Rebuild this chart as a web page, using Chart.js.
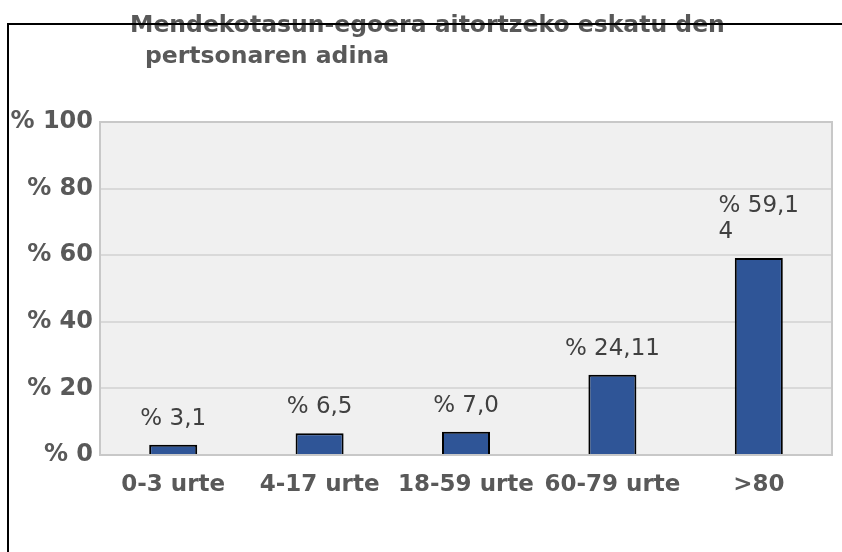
<!DOCTYPE html>
<html>
<head>
<meta charset="utf-8">
<script src="https://cdn.jsdelivr.net/npm/chart.js@4/dist/chart.umd.min.js"></script>
<style>
  body { margin: 0; background: #ffffff; }
  #wrap { width: 842px; height: 552px; }
</style>
</head>
<body>
<div id="wrap"><canvas id="ageChart" width="842" height="552"></canvas></div>
<script>
// Data
const titleLines = ['Mendekotasun-egoera aitortzeko eskatu den', 'pertsonaren adina'];
const categories = ['0-3 urte', '4-17 urte', '18-59 urte', '60-79 urte', '>80'];
const shares = [3.1, 6.5, 7.0, 24.11, 59.14];
const valueLabels = [['% 3,1'], ['% 6,5'], ['% 7,0'], ['% 24,11'], ['% 59,1', '4']];
const yMax = 100;
const yStep = 20;

const GREY = '#595959';

// plot area background + border
const plotBox = {
  id: 'plotBox',
  beforeDraw(chart) {
    const { ctx, chartArea: a } = chart;
    ctx.save();
    ctx.fillStyle = '#f0f0f0';
    ctx.fillRect(a.left, a.top, a.right - a.left, a.bottom - a.top);
    ctx.restore();
  },
  beforeDatasetsDraw(chart) {
    const { ctx, chartArea: a } = chart;
    ctx.save();
    ctx.strokeStyle = '#c8c8c8';
    ctx.lineWidth = 2;
    ctx.strokeRect(a.left, a.top, a.right - a.left, a.bottom - a.top);
    ctx.restore();
  }
};

// value labels above bars (first line centred, extra lines left-aligned under it)
const barLabels = {
  id: 'barLabels',
  afterDatasetsDraw(chart) {
    const { ctx } = chart;
    const bars = chart.getDatasetMeta(0).data;
    ctx.save();
    ctx.font = '23px "DejaVu Sans", sans-serif';
    ctx.fillStyle = '#404040';
    ctx.textAlign = 'left';
    ctx.textBaseline = 'alphabetic';
    bars.forEach((bar, i) => {
      const lines = valueLabels[i];
      const w = ctx.measureText(lines[0]).width;
      const left = bar.x - w / 2;
      const n = lines.length;
      lines.forEach((txt, j) => {
        ctx.fillText(txt, left, bar.y - 20 - (n - 1 - j) * 26);
      });
    });
    ctx.restore();
  }
};

// title and the outer frame line that runs through it
const titleFrame = {
  id: 'titleFrame',
  afterDraw(chart) {
    const { ctx } = chart;
    ctx.save();
    ctx.font = 'bold 23.5px "DejaVu Sans", sans-serif';
    ctx.fillStyle = GREY;
    ctx.textAlign = 'left';
    ctx.textBaseline = 'alphabetic';
    ctx.fillText(titleLines[0], 130, 32);
    ctx.fillText(titleLines[1], 145, 63);
    ctx.strokeStyle = '#000000';
    ctx.lineWidth = 2;
    ctx.beginPath();
    ctx.moveTo(842, 24);
    ctx.lineTo(8, 24);
    ctx.lineTo(8, 552);
    ctx.stroke();
    ctx.restore();
  }
};

const ctx = document.getElementById('ageChart').getContext('2d');
new Chart(ctx, {
  type: 'bar',
  data: {
    labels: categories,
    datasets: [{
      data: shares,
      backgroundColor: '#2f5597',
      borderColor: '#000000',
      borderWidth: 2,
      barPercentage: 0.328,
      categoryPercentage: 1
    }]
  },
  options: {
    responsive: false,
    animation: false,
    layout: { padding: { top: 122, right: 10, left: 0, bottom: 0 } },
    plugins: {
      legend: { display: false },
      title: { display: false },
      tooltip: { enabled: false }
    },
    scales: {
      x: {
        grid: { display: false, drawTicks: false },
        border: { display: false },
        ticks: {
          color: GREY,
          font: { family: 'DejaVu Sans', size: 23, weight: 'bold' },
          padding: 16,
          maxRotation: 0,
          autoSkip: false
        },
        afterFit(scale) { scale.height = 97; }
      },
      y: {
        min: 0,
        max: yMax,
        grid: { color: '#d9d9d9', lineWidth: 2, drawTicks: false },
        border: { display: false },
        ticks: {
          stepSize: yStep,
          color: GREY,
          padding: 7,
          font: { family: 'DejaVu Sans', size: 24, weight: 'bold' },
          callback: v => '% ' + v
        },
        afterFit(scale) { scale.width = 100; }
      }
    }
  },
  plugins: [plotBox, barLabels, titleFrame]
});
</script>
</body>
</html>
